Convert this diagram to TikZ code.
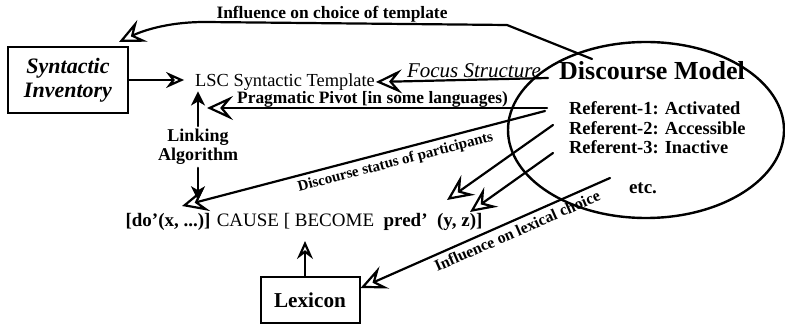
\documentclass[tikz,border=0pt]{standalone}
\usepackage{fontspec}
\setmainfont{Liberation Serif}
\usetikzlibrary{arrows.meta,positioning,shapes.geometric}

\begin{document}
\begin{tikzpicture}[
    x=0.5pt,
    y=-0.5pt,
    line width=1.1pt,
    line cap=round,
    bighollow/.style={-{Stealth[open,length=13pt,width=12pt,inset=5pt]}},
    smallhollow/.style={-{Stealth[open,length=9pt,width=8pt,inset=3pt]}},
    solidhead/.style={-{Stealth[length=7pt,width=7pt,inset=2pt]}},
    boxnode/.style={draw,line width=1pt,inner sep=0pt,align=center},
    lbl/.style={font=\fontsize{8.7}{10}\selectfont\bfseries,inner sep=0pt},
    slopelbl/.style={font=\fontsize{7.5}{9}\selectfont\bfseries,sloped,below,inner sep=2pt},
    reftext/.style={font=\fontsize{9.2}{11}\selectfont\bfseries,anchor=west,inner sep=0pt}
]
\useasboundingbox (0,0) rectangle (785,325);

% Boxes
\node[boxnode,minimum width=60pt,minimum height=33pt,
      font=\fontsize{11}{12}\selectfont\bfseries\itshape] (inv) at (68,80) {Syntactic\\Inventory};
\node[boxnode,minimum width=49.5pt,minimum height=23pt,
      font=\fontsize{10.6}{12}\selectfont\bfseries] (lex) at (310,300) {Lexicon};

% Template, linking and logical structure
\node[font=\fontsize{9.2}{11}\selectfont,inner sep=0pt] (lsc) at (285,82) {LSC Syntactic Template};
\node[font=\fontsize{9}{9.5}\selectfont\bfseries,align=center,inner sep=1pt] (link) at (198,147) {Linking\\Algorithm};
\node[font=\fontsize{9.5}{11}\selectfont,inner sep=0pt] (form) at (304,222)
    {\textbf{[do’(x, ...)]} CAUSE [ BECOME \ \textbf{pred’} \ \textbf{(y, z)]}};

% Discourse model
\node[draw,ellipse,line width=1.2pt,minimum width=138pt,minimum height=88pt,inner sep=0pt] (dm) at (646,130) {};
\node[font=\fontsize{13}{15}\selectfont\bfseries] (dmtitle) at (652,71) {Discourse Model};
\foreach \n/\st/\y in {1/Activated/108,2/Accessible/128,3/Inactive/147}{
    \node[reftext] (ref\n) at (568,\y) {Referent-\n: \st};
}
\node[font=\fontsize{9.5}{11}\selectfont\bfseries] (etc) at (643,188) {etc.};

% loose ends of the connectors
\coordinate (tplout) at (592,59);
\coordinate (tplbend) at (507,25);
\coordinate (tplleft) at (205,22);
\coordinate (focusout) at (548,78);
\coordinate (pivout) at (547,108);
\coordinate (dsout) at (545,111);
\coordinate (dotip) at (182,206);
\coordinate (r2out) at (553,125);
\coordinate (r3out) at (553,153);
\coordinate (predtip) at (447,200);
\coordinate (yztip) at (470,212);
\coordinate (lexout) at (610,178);
\coordinate (become) at (305,241);

% Arrows
\draw[smallhollow,shorten >=5pt] (inv.east) -- (inv.east -| lsc.west);
\draw[solidhead] (link.north) -- (link.north |- lsc.south);
\draw[solidhead,shorten >=6pt] (link.south) -- (link.south |- form.north);

\draw[bighollow] (tplout) -- (tplbend) -- (tplleft)
    .. controls (165,22) and (140,32) .. ([xshift=-5pt,yshift=2pt]inv.north east);
\node[lbl,anchor=base] (tpllbl) at (332,19) {Influence on choice of template};

\draw[bighollow] (focusout) -- (lsc.east)
    node[pos=0.43,above,font=\fontsize{10.5}{12}\selectfont\itshape,inner sep=0.5pt] (foclbl) {Focus Structure};
\draw[bighollow,shorten >=4.5pt] (pivout) -- (pivout -| link.north)
    node[midway,above,lbl] (pivlbl) {Pragmatic Pivot [in some languages)};
\draw[bighollow] (dsout) -- (dotip)
    node[pos=0.42,slopelbl] (dslbl) {Discourse status of participants};
\draw[bighollow] (r2out) -- (predtip);
\draw[bighollow] (r3out) -- (yztip);
\draw[bighollow] (lexout) -- ([yshift=6pt]lex.east)
    node[pos=0.39,slopelbl,font=\fontsize{8}{9}\selectfont\bfseries] (lexlbl) {Influence on lexical choice};
\draw[smallhollow] (lex.north -| become) -- (become);

\end{tikzpicture}
\end{document}
